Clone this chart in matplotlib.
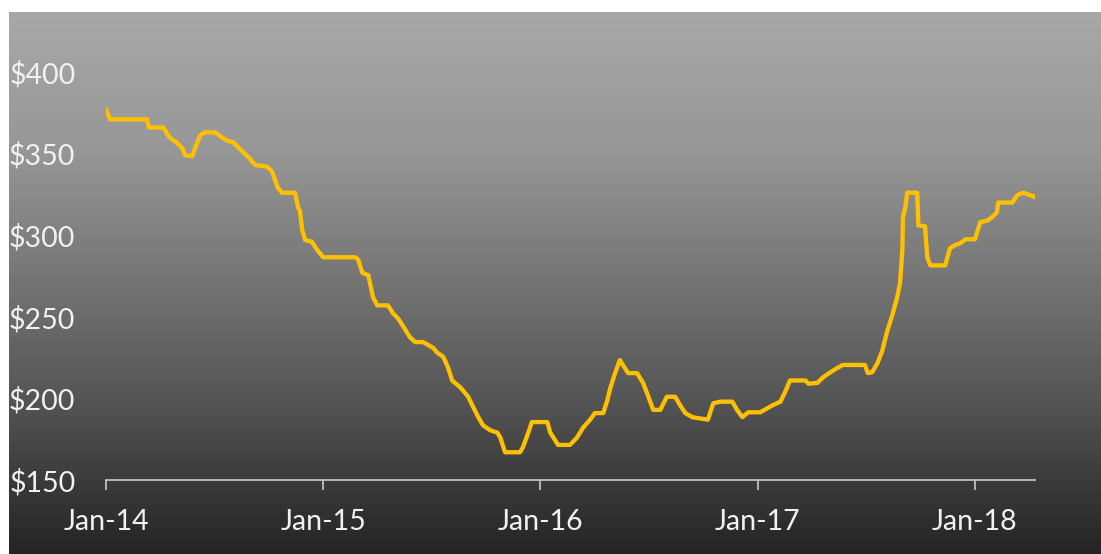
import numpy as np
import pandas as pd
import matplotlib
matplotlib.use("Agg")
import matplotlib.pyplot as plt
import matplotlib.dates as mdates
from matplotlib.colors import LinearSegmentedColormap

# days since 2014-01-01 and price ($) at each vertex of the traced line
days = [0, 7, 69, 72, 96, 108, 118, 128, 133, 145,
        150, 158, 166, 183, 195, 203, 214, 222, 230, 239,
        251, 271, 279, 284, 289, 296, 318, 323, 326, 330,
        335, 346, 355, 365, 419, 424, 431, 441, 444, 449,
        456, 474, 483, 491, 500, 511, 520, 533, 550, 557,
        567, 575, 582, 595, 600, 609, 617, 626, 634, 646,
        658, 663, 671, 696, 701, 710, 716, 742, 747, 755,
        760, 780, 792, 802, 814, 822, 836, 843, 848, 856,
        864, 869, 878, 893, 903, 912, 920, 932, 943, 957,
        965, 974, 986, 994, 1012, 1021, 1033, 1053, 1061, 1070,
        1080, 1100, 1112, 1122, 1134, 1142, 1150, 1176, 1181, 1196,
        1206, 1218, 1229, 1239, 1276, 1281, 1288, 1297, 1305, 1313,
        1322, 1330, 1335, 1339, 1340, 1344, 1347, 1364, 1366, 1377,
        1381, 1386, 1411, 1419, 1428, 1436, 1445, 1461, 1470, 1482,
        1490, 1498, 1500, 1524, 1532, 1542, 1554, 1561]
prices = [377, 371, 371, 366, 366, 359.5, 357, 353.5, 349, 348.5,
          353.5, 361, 363, 363, 360, 358, 357, 354, 351, 348,
          343, 342, 339, 334, 329, 326, 326, 317, 315, 303,
          297, 296, 291, 286.5, 286.5, 285, 277, 275.5, 270.5, 262,
          257, 257, 252, 249, 244, 237.5, 234.5, 234.5, 231, 228,
          225.5, 219, 211, 207, 205, 201, 195, 188.5, 183.5, 180.5,
          179, 176, 167, 167, 170, 179, 185.5, 185.5, 179, 174.5,
          171.5, 171.5, 176, 182, 187, 191, 191, 199, 206.5, 215.5,
          223.5, 220.5, 215.5, 215.5, 209.5, 201, 193, 193, 201, 201,
          196, 191, 188.5, 188, 187, 197, 198, 198, 193, 188.5,
          191.5, 191.5, 194, 196, 198, 204, 211, 211, 209, 209.5,
          213, 216, 218.5, 220.5, 220.5, 215.5, 216, 221.5, 229, 240.5,
          251, 261.5, 270.5, 291, 311, 317, 326, 326, 306, 305.5,
          286.5, 281.5, 281.5, 292, 294, 295, 297.5, 297.5, 308, 309,
          311, 314, 320, 320, 324.5, 326, 324.5, 323.5]
yticks = [150, 200, 250, 300, 350, 400]
xticks = ["2014-01-01", "2015-01-01", "2016-01-01", "2017-01-01", "2018-01-01"]

dates = pd.Timestamp("2014-01-01") + pd.to_timedelta(days, unit="D")

plt.rcParams["font.family"] = ["Lato", "DejaVu Sans"]

W, H = 1101, 554
fig = plt.figure(figsize=(W / 100, H / 100), dpi=100, facecolor="white")

# gradient panel behind the chart
bg = fig.add_axes([9 / W, 0, 1 - 9 / W, (H - 12) / H])
cmap = LinearSegmentedColormap.from_list(
    "bg", [(0, "#a8a8a8"), (0.255, "#979797"), (0.716, "#555555"), (1, "#242424")])
bg.imshow(np.linspace(0, 1, 256).reshape(-1, 1), aspect="auto", cmap=cmap,
          extent=[0, 1, 0, 1])
bg.axis("off")

ax = fig.add_axes([106 / W, (H - 480) / H, (1035 - 106) / W, (480 - 72) / H])
ax.patch.set_alpha(0)
ax.plot(dates, prices, color="#ffc000", lw=3.1, solid_joinstyle="round")

ax.set_ylim(150, 400)
ax.set_xlim(pd.Timestamp("2014-01-01"), pd.Timestamp("2018-04-12"))
ax.set_yticks(yticks)
ax.set_yticklabels([f"${v}" for v in yticks])
ax.set_xticks(pd.to_datetime(xticks))
ax.xaxis.set_major_formatter(mdates.DateFormatter("%b-%y"))

for s in ["top", "right", "left"]:
    ax.spines[s].set_visible(False)
ax.spines["bottom"].set_color("#bfbfbf")
ax.spines["bottom"].set_linewidth(1.3)
ax.tick_params(axis="y", length=0, pad=22, labelsize=20.5, labelcolor="#f2f2f2")
ax.tick_params(axis="x", length=7, width=1.3, color="#bfbfbf", pad=14,
               labelsize=20.5, labelcolor="#f2f2f2")

fig.savefig("out.png", dpi=100, facecolor="white")
